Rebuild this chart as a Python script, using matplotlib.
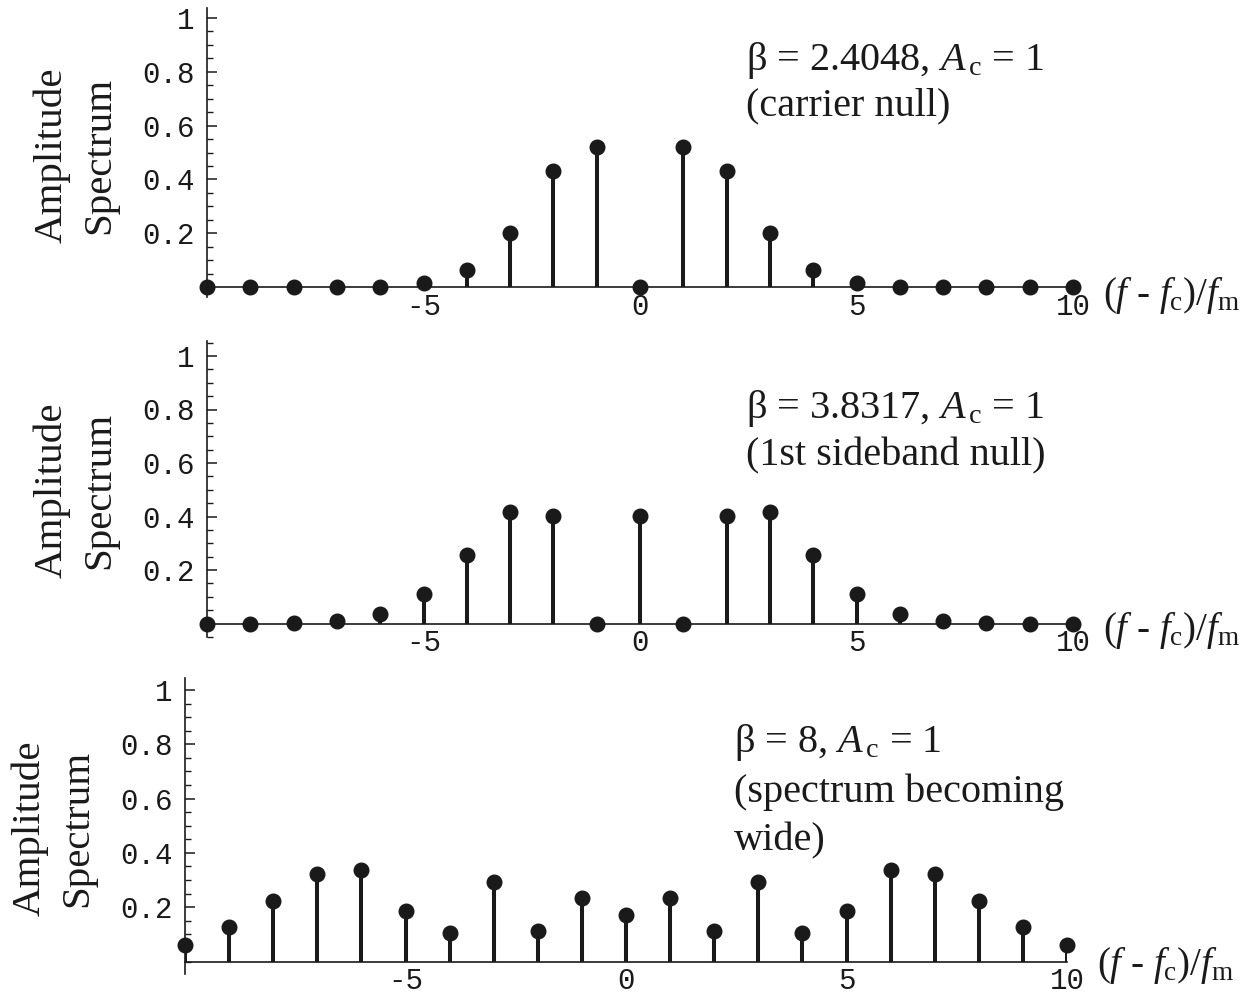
import numpy as np
import matplotlib
matplotlib.use("Agg")
import matplotlib.pyplot as plt
from matplotlib.ticker import MultipleLocator

# harmonic index n = (f - fc)/fm
n = list(range(-10, 11))

# |J_n(beta)|
amp_carrier_null = [0, 0, 0, 0, 0, 0.016, 0.065, 0.199, 0.432, 0.519, 0,
                    0.519, 0.432, 0.199, 0.065, 0.016, 0, 0, 0, 0, 0]
amp_sideband_null = [0, 0, 0.002, 0.010, 0.036, 0.111, 0.255, 0.418, 0.403, 0, 0.403,
                     0, 0.403, 0.418, 0.255, 0.111, 0.036, 0.010, 0.002, 0, 0]
amp_wide = [0.061, 0.126, 0.224, 0.321, 0.338, 0.186, 0.105, 0.291, 0.113, 0.235, 0.172,
            0.235, 0.113, 0.291, 0.105, 0.186, 0.338, 0.321, 0.224, 0.126, 0.061]

titles = [
    ["\u03b2 = 2.4048, $A_{\\,\\rm c}$ = 1", "(carrier null)"],
    ["\u03b2 = 3.8317, $A_{\\,\\rm c}$ = 1", "(1st sideband null)"],
    ["\u03b2 = 8, $A_{\\,\\rm c}$ = 1", "(spectrum becoming", "wide)"],
]
ytick_vals = [0.2, 0.4, 0.6, 0.8, 1.0]
ytick_labels = ["0.2", "0.4", "0.6", "0.8", "1"]
xtick_vals = [-5, 0, 5, 10]
xtick_labels = ["-5", "0", "5", "10"]

plt.rcParams["mathtext.fontset"] = "custom"
plt.rcParams["mathtext.rm"] = "Liberation Serif"
plt.rcParams["mathtext.it"] = "Liberation Serif:italic"

W, H = 1248, 999
fig = plt.figure(figsize=(W / 100, H / 100), dpi=100)

# pixel layout: left, right, y of zero, pixels per unit, ylim
panels = [
    dict(data=amp_carrier_null, left=207, right=1073, y0=287, ppu=269, ylim=(-0.037, 1.037),
         text_x=746, text_y=[70, 115], ylab=(52, 100, 155), xlab_y=305),
    dict(data=amp_sideband_null, left=207, right=1073, y0=623.5, ppu=267.5, ylim=(-0.05, 1.055),
         text_x=746, text_y=[418, 465], ylab=(52, 100, 490), xlab_y=640),
    dict(data=amp_wide, left=185, right=1067, y0=961.5, ppu=271.5, ylim=(-0.047, 1.045),
         text_x=734, text_y=[752, 802, 850], ylab=(30, 78, 828), xlab_y=975),
]

ink = "#1a1a1a"
mono = "Liberation Mono"
serif = "Liberation Serif"

for p, lines in zip(panels, titles):
    bottom_px = p["y0"] - p["ylim"][0] * p["ppu"]
    top_px = p["y0"] - p["ylim"][1] * p["ppu"]
    ax = fig.add_axes([p["left"] / W, 1 - bottom_px / H,
                       (p["right"] - p["left"]) / W, (bottom_px - top_px) / H])
    ml, sl, bl = ax.stem(n, p["data"], linefmt="-", markerfmt="o", basefmt=" ")
    plt.setp(sl, color=ink, linewidth=2.9)
    plt.setp(ml, color=ink, markersize=10.5, clip_on=False, zorder=4)
    ax.set_xlim(-10, 10)
    ax.set_ylim(*p["ylim"])

    for s in ["top", "right"]:
        ax.spines[s].set_visible(False)
    ax.spines["bottom"].set_position(("data", 0))
    ax.spines["left"].set_position(("data", -10))
    for s in ["bottom", "left"]:
        ax.spines[s].set_linewidth(1.2)
        ax.spines[s].set_color(ink)

    ax.set_yticks(ytick_vals)
    ax.set_yticklabels(ytick_labels, fontfamily=mono, fontsize=21)
    ax.yaxis.set_minor_locator(MultipleLocator(0.05))
    ax.tick_params(axis="y", which="major", direction="in", length=7, width=1.1,
                   pad=9, colors=ink)
    ax.tick_params(axis="y", which="minor", direction="in", length=4, width=1.0, colors=ink)

    ax.set_xticks(xtick_vals)
    ax.set_xticklabels(xtick_labels, fontfamily=mono, fontsize=21)
    ax.tick_params(axis="x", length=0, pad=4, colors=ink)

    for line, yb in zip(lines, p["text_y"]):
        fig.text(p["text_x"] / W, 1 - yb / H, line, fontfamily=serif, fontsize=29,
                 va="baseline", ha="left", color=ink)

    xa, xb, yc = p["ylab"]
    fig.text(xa / W, 1 - yc / H, "Amplitude", rotation=90, fontfamily=serif, fontsize=29.5,
             ha="center", va="center", color=ink)
    fig.text(xb / W, 1 - yc / H, "Spectrum", rotation=90, fontfamily=serif, fontsize=29.5,
             ha="center", va="center", color=ink)

    fig.text((p["right"] + 30) / W, 1 - p["xlab_y"] / H,
             r"$(f$ - $f_{\rm c})/f_{\rm m}$", fontfamily=serif, fontsize=28,
             ha="left", va="baseline", color=ink)

fig.savefig("out.png", dpi=100)
